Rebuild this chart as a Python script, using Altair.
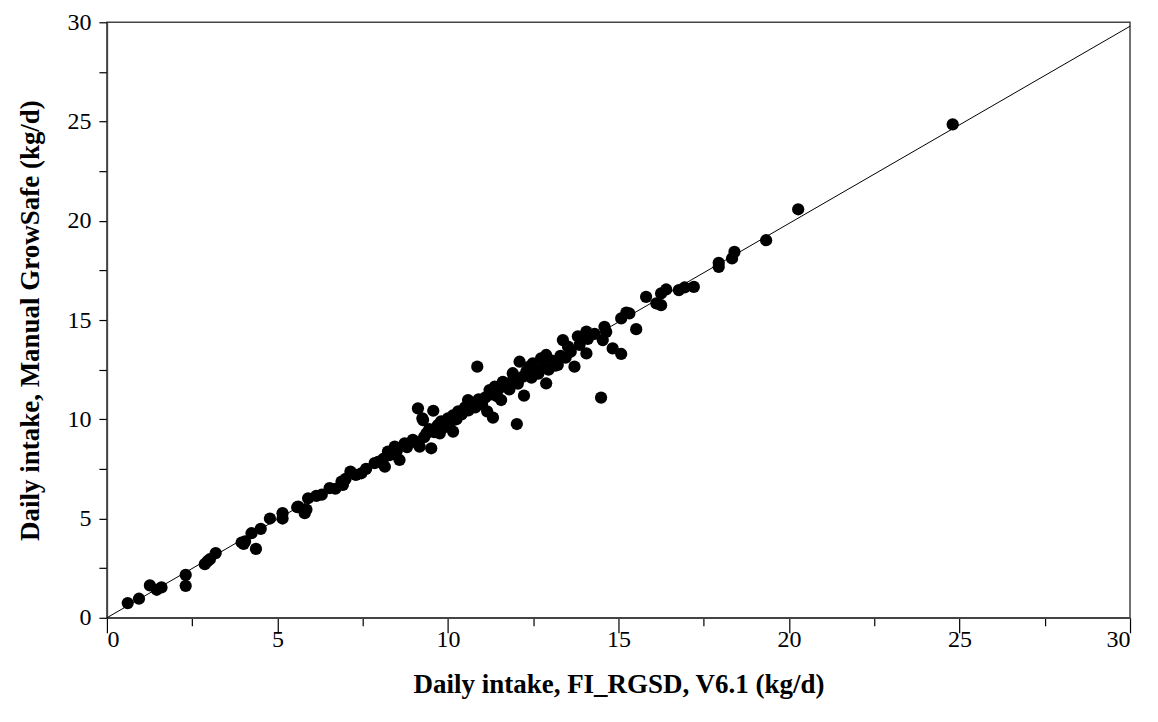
import altair as alt
import pandas as pd

# Scatter points (FI_RGSD V6.1 vs Manual GrowSafe)
x_vals = [
    0.61, 0.94, 1.26, 1.46, 1.60, 2.31, 2.31, 2.87, 2.95, 3.02, 3.19, 3.95, 4.01, 4.05,
    4.24, 4.37, 4.51, 4.78, 5.15, 5.15, 5.58, 5.61, 5.80, 5.90, 5.85, 6.14, 6.30, 6.53,
    6.70, 6.88, 6.92, 7.00, 7.14, 7.30, 7.46, 7.60, 7.85, 7.95, 8.15, 8.10, 8.24, 8.30,
    8.44, 8.50, 8.58, 8.73, 8.80, 8.97, 9.05, 9.17, 9.12, 9.27, 9.37, 9.57, 9.25, 9.51,
    9.30, 9.45, 9.60, 9.70, 9.76, 9.80, 9.90, 10.00, 10.05, 10.15, 10.15, 10.25, 10.30,
    10.40, 10.50, 10.59, 10.60, 10.70, 10.80, 10.86, 10.90, 11.00, 11.10, 11.15, 11.22,
    11.30, 11.32, 11.37, 11.45, 11.50, 11.56, 11.61, 11.70, 11.80, 11.90, 11.90, 12.02,
    12.05, 12.10, 12.20, 12.23, 12.30, 12.39, 12.45, 12.49, 12.55, 12.65, 12.73, 12.80,
    12.88, 12.88, 12.95, 13.05, 13.15, 13.22, 13.30, 13.37, 13.45, 13.52, 13.60, 13.71,
    13.81, 13.86, 14.06, 14.06, 14.10, 14.30, 14.49, 14.54, 14.59, 14.64, 14.83, 15.08,
    15.08, 15.23, 15.32, 15.52, 15.81, 16.11, 16.25, 16.25, 16.40, 16.77, 16.94, 17.21,
    17.94, 17.94, 18.33, 18.40, 19.33, 20.27, 24.80,
]
y_vals = [
    0.74, 0.96, 1.63, 1.41, 1.53, 2.16, 1.61, 2.70, 2.85, 2.95, 3.26, 3.79, 3.72, 3.85,
    4.26, 3.47, 4.48, 5.00, 5.27, 5.00, 5.57, 5.60, 5.27, 6.02, 5.45, 6.14, 6.20, 6.53,
    6.50, 6.86, 6.69, 7.00, 7.36, 7.20, 7.28, 7.50, 7.79, 7.85, 7.61, 8.00, 8.37, 8.20,
    8.62, 8.40, 7.95, 8.79, 8.60, 8.96, 8.85, 8.62, 10.55, 9.96, 9.29, 10.43, 10.05, 8.54,
    9.10, 9.50, 9.35, 9.70, 9.29, 9.90, 9.60, 10.05, 9.75, 9.38, 10.20, 10.00, 10.40,
    10.25, 10.60, 10.97, 10.45, 10.80, 10.60, 12.65, 11.00, 10.75, 11.10, 10.40, 11.47,
    11.25, 10.08, 11.64, 11.15, 11.55, 10.97, 11.89, 11.70, 11.50, 12.32, 11.95, 9.76,
    11.80, 12.90, 12.15, 11.19, 12.40, 12.65, 12.10, 12.82, 12.45, 12.30, 13.07, 12.60,
    11.81, 13.24, 12.50, 12.95, 12.70, 12.74, 13.20, 13.99, 13.10, 13.66, 13.40, 12.65,
    14.18, 13.75, 13.32, 14.42, 14.05, 14.30, 11.09, 13.99, 14.66, 14.40, 13.57, 13.29,
    15.08, 15.37, 15.33, 14.54, 16.17, 15.84, 15.75, 16.34, 16.54, 16.51, 16.64, 16.67,
    17.68, 17.88, 18.10, 18.43, 19.02, 20.58, 24.86,
]

# Fitted line end points
line_x = [0.0, 30.0]
line_y = [0.0, 29.8]

tick_values = [0, 2.5, 5, 7.5, 10, 12.5, 15, 17.5, 20, 22.5, 25, 27.5, 30]

pts = pd.DataFrame({"x": x_vals, "y": y_vals})
ln = pd.DataFrame({"x": line_x, "y": line_y})

FONT = "Liberation Serif"
AXC = "#444444"

xscale = alt.Scale(domain=[0, 30], nice=False, zero=False)
yscale = alt.Scale(domain=[0, 30], nice=False, zero=False)

label_expr = "datum.value % 5 === 0 ? datum.label : ''"

x_axis = alt.Axis(
    title="Daily intake, FI_RGSD, V6.1 (kg/d)",
    values=tick_values,
    labelExpr=label_expr,
    tickSize={"condition": {"test": "datum.value % 5 === 0", "value": 15}, "value": 8},
    labelPadding=-5,
    grid=False,
    domainColor=AXC,
    domainWidth=1.5,
    tickColor="#000000",
    tickWidth=1.2,
    labelFont=FONT,
    labelFontSize=24,
    labelColor="#000000",
    titleFont=FONT,
    titleFontSize=27,
    titleFontWeight="bold",
    titleColor="#000000",
    titlePadding=20,
)
y_axis = alt.Axis(
    title="Daily intake, Manual GrowSafe (kg/d)",
    values=tick_values,
    labelExpr=label_expr,
    tickSize=8,
    labelPadding=8,
    grid=False,
    domainColor=AXC,
    domainWidth=1.5,
    tickColor="#000000",
    tickWidth=1.2,
    labelFont=FONT,
    labelFontSize=24,
    labelColor="#000000",
    titleFont=FONT,
    titleFontSize=27,
    titleFontWeight="bold",
    titleColor="#000000",
    titlePadding=22,
)

points = alt.Chart(pts).mark_circle(size=150, color="#000000", opacity=1).encode(
    x=alt.X("x:Q", scale=xscale, axis=x_axis),
    y=alt.Y("y:Q", scale=yscale, axis=y_axis),
)

line = alt.Chart(ln).mark_line(color="#000000", strokeWidth=1).encode(
    x=alt.X("x:Q", scale=xscale),
    y=alt.Y("y:Q", scale=yscale),
)

chart = (
    alt.layer(line, points)
    .properties(
        width=1024,
        height=596,
        autosize=alt.AutoSizeParams(type="none"),
        padding={"left": 99, "top": 14, "right": 20, "bottom": 90},
        background="#ffffff",
    )
    .configure_view(stroke=AXC, strokeWidth=1.5)
)

chart.save("out.html", embed_options={"renderer": "svg", "actions": False})
